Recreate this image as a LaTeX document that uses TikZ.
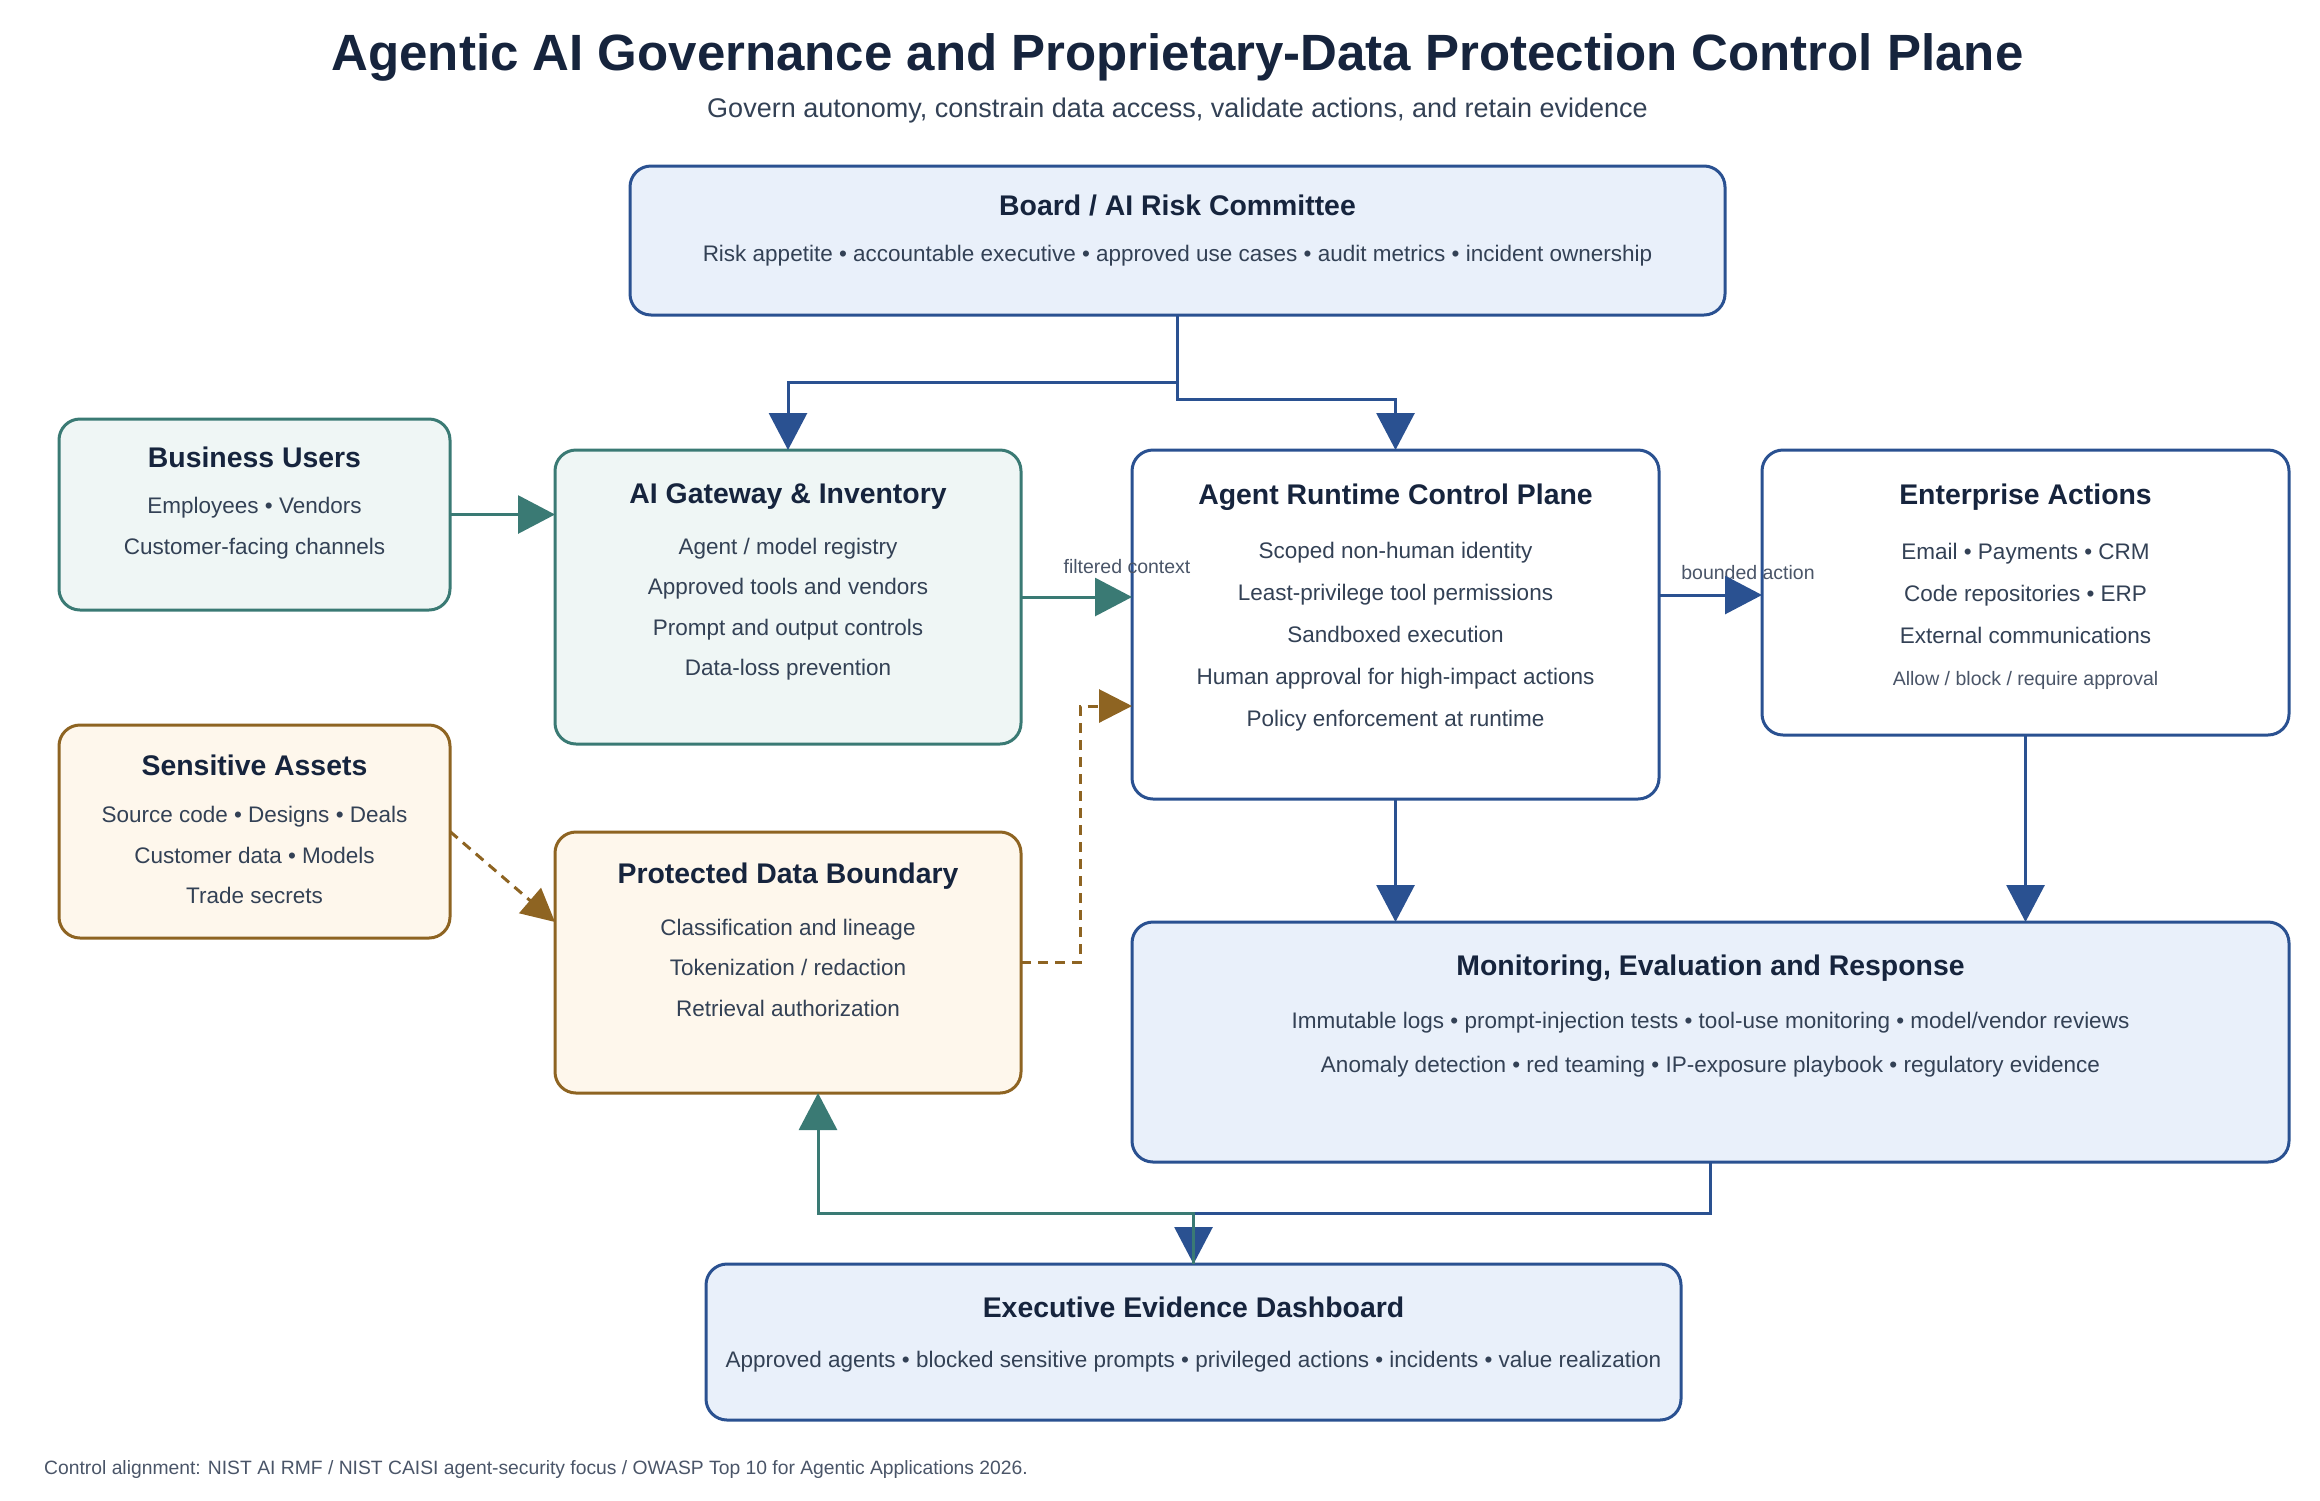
\documentclass[tikz,border=0pt]{standalone}
\usepackage{fontspec}
\setmainfont{Liberation Sans}
\usetikzlibrary{arrows.meta,calc}
\definecolor{navy}{HTML}{16243D}
\definecolor{slate}{HTML}{334155}
\definecolor{gray6}{HTML}{4A5568}
\definecolor{cblue}{HTML}{2A5191}
\definecolor{bluefill}{HTML}{E9F0FA}
\definecolor{cteal}{HTML}{3A7A74}
\definecolor{tealfill}{HTML}{EFF6F5}
\definecolor{cbrown}{HTML}{8E6422}
\definecolor{brownfill}{HTML}{FEF7EC}
\newcommand\fsz[1]{\fontsize{#1}{#1}\selectfont}
\begin{document}
\begin{tikzpicture}[x=1pt,y=-1pt,
  box/.style={rounded corners=21pt, line width=3pt, inner sep=0pt, outer sep=0pt},
  bluebox/.style={box, draw=cblue, fill=bluefill},
  whitebox/.style={box, draw=cblue, fill=white},
  tealbox/.style={box, draw=cteal, fill=tealfill},
  brownbox/.style={box, draw=cbrown, fill=brownfill},
  ttl/.style={anchor=base, inner sep=0pt, text=navy, font=\fsz{28.4}\bfseries},
  body/.style={anchor=base, inner sep=0pt, text=slate, font=\fsz{22.5}},
  small/.style={anchor=base, inner sep=0pt, text=gray6, font=\fsz{19.5}},
  arr/.style={-{Triangle[length=37pt,width=38pt]}, line width=3pt},
  darr/.style={-{Triangle[length=33pt,width=33pt]}, line width=3pt, dash pattern=on 10pt off 7pt}
]
\useasboundingbox (0,0) rectangle (2320,1500);

% title
\node (title) [anchor=base, inner sep=0pt, text=navy, font=\fsz{51}\bfseries] at (1177.5,70) {Agentic AI Governance and Proprietary-Data Protection Control Plane};
\node (subtitle) [anchor=base, inner sep=0pt, text=slate, font=\fsz{27}] at (1177.5,117) {Govern autonomy, constrain data access, validate actions, and retain evidence};

% boxes
\node (board) [bluebox, minimum width=1095pt, minimum height=149pt] at (1177.5,240.5) {};
\node (users) [tealbox, minimum width=391pt, minimum height=191pt] at (254.5,514.5) {};
\node (gw) [tealbox, minimum width=466pt, minimum height=294pt] at (788,597) {};
\node (rt) [whitebox, minimum width=527pt, minimum height=349pt] at (1395.5,624.5) {};
\node (ent) [whitebox, minimum width=527pt, minimum height=285pt] at (2025.5,592.5) {};
\node (sens) [brownbox, minimum width=391pt, minimum height=213pt] at (254.5,831.5) {};
\node (prot) [brownbox, minimum width=466pt, minimum height=261pt] at (788,962.5) {};
\node (mon) [bluebox, minimum width=1157pt, minimum height=240pt] at (1710.5,1042) {};
\node (exec) [bluebox, minimum width=975pt, minimum height=156pt] at (1193.5,1342) {};

% texts
\node (boardT) [ttl] at (1177.5,215) {Board / AI Risk Committee};
\node (boardB) [body] at (1177.5,261) {Risk appetite • accountable executive • approved use cases • audit metrics • incident ownership};

\node (usersT) [ttl] at (254.5,467) {Business Users};
\node (usersB1) [body] at (254.5,513) {Employees • Vendors};
\node (usersB2) [body] at (254.5,554) {Customer-facing channels};

\node (gwT) [ttl] at (788,503) {AI Gateway \& Inventory};
\node (gwB1) [body] at (788,554) {Agent / model registry};
\node (gwB2) [body] at (788,594.5) {Approved tools and vendors};
\node (gwB3) [body] at (788,635) {Prompt and output controls};
\node (gwB4) [body] at (788,675.5) {Data-loss prevention};

\node (rtT) [ttl] at (1395.5,504) {Agent Runtime Control Plane};
\node (rtB1) [body] at (1395.5,558) {Scoped non-human identity};
\node (rtB2) [body] at (1395.5,600) {Least-privilege tool permissions};
\node (rtB3) [body] at (1395.5,642) {Sandboxed execution};
\node (rtB4) [body] at (1395.5,684) {Human approval for high-impact actions};
\node (rtB5) [body] at (1395.5,726) {Policy enforcement at runtime};

\node (entT) [ttl] at (2025.5,504) {Enterprise Actions};
\node (entB1) [body] at (2025.5,559) {Email • Payments • CRM};
\node (entB2) [body] at (2025.5,601) {Code repositories • ERP};
\node (entB3) [body] at (2025.5,643) {External communications};
\node (entB4) [small] at (2025.5,685) {Allow / block / require approval};

\node (sensT) [ttl] at (254.5,775) {Sensitive Assets};
\node (sensB1) [body] at (254.5,822) {Source code • Designs • Deals};
\node (sensB2) [body] at (254.5,863) {Customer data • Models};
\node (sensB3) [body] at (254.5,903) {Trade secrets};

\node (protT) [ttl] at (788,883) {Protected Data Boundary};
\node (protB1) [body] at (788,935) {Classification and lineage};
\node (protB2) [body] at (788,975) {Tokenization / redaction};
\node (protB3) [body] at (788,1016) {Retrieval authorization};

\node (monT) [ttl] at (1710.5,975) {Monitoring, Evaluation and Response};
\node (monB1) [body] at (1710.5,1028) {Immutable logs • prompt-injection tests • tool-use monitoring • model/vendor reviews};
\node (monB2) [body] at (1710.5,1072) {Anomaly detection • red teaming • IP-exposure playbook • regulatory evidence};

\node (execT) [ttl] at (1193.5,1317) {Executive Evidence Dashboard};
\node (execB) [body] at (1193.5,1367) {Approved agents • blocked sensitive prompts • privileged actions • incidents • value realization};

% connectors
\draw[arr, cblue] (board.south) -- ++(0,67) -| (gw.north);
\draw[arr, cblue] (board.south) -- ++(0,84) -| (rt.north);
\draw[arr, cteal] (users.east) -- (users.east -| gw.west);
\draw[arr, cteal] (gw.east) -- (gw.east -| rt.west);
\node (lblfc) [small] at (1127,573) {filtered context};
\coordinate (baS) at ([yshift=29.5pt]rt.east);
\node (lblba) [small] at (1748,579) {bounded action};
\draw[arr, cblue] (baS) -- (baS -| ent.west);
\draw[darr, cbrown] (sens.east) -- ([yshift=40.5pt]prot.west);
\coordinate (rtin) at ([yshift=-81.5pt]rt.west);
\draw[darr, cbrown] (prot.east) -- ++(59,0) |- (rtin);
\draw[arr, cblue] (rt.south) -- (rt.south |- mon.north);
\draw[arr, cblue] (ent.south) -- (ent.south |- mon.north);
\draw[arr, cblue] (mon.south) -- ++(0,51) -| (exec.north);
\draw[arr, cteal] (exec.north) -- ++(0,-51) -| ([xshift=30pt]prot.south);

% footer
\node (footer) [anchor=base west, inner sep=0pt, text=gray6, font=\fsz{19.3}] at (44,1474) {Control alignment: NIST AI RMF / NIST CAISI agent-security focus / OWASP Top 10 for Agentic Applications 2026.};
\end{tikzpicture}
\end{document}
